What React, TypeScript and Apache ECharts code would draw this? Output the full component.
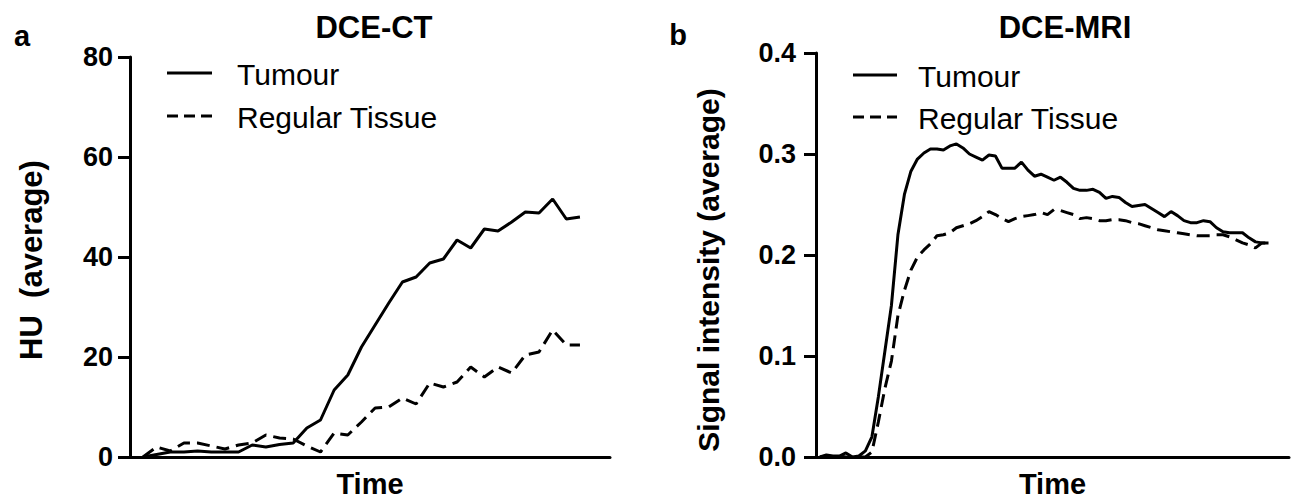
import React, { useEffect, useRef } from "react";
import * as echarts from "echarts";

// ---- DCE-CT (panel a) ----
const ctTime = [0, 1, 2, 3, 4, 5, 6, 7, 8, 9, 10, 11, 12, 13, 14, 15, 16, 17, 18, 19, 20, 21, 22, 23, 24, 25, 26, 27, 28, 29, 30, 31, 32];
const ctTumour = [0, 0.5, 1, 1, 1.2, 1, 1, 1, 2.4, 2, 2.5, 2.8, 5.8, 7.4, 13.4, 16.4, 22, 26.4, 30.8, 35, 36, 38.8, 39.6, 43.4, 41.8, 45.6, 45.2, 47, 49, 48.8, 51.6, 47.6, 48];
const ctRegular = [0, 2, 1.2, 2.8, 2.8, 2.2, 1.6, 2.4, 2.8, 4.4, 3.8, 3.6, 2.2, 1, 4.8, 4.4, 7, 9.8, 10, 11.8, 10.6, 14.8, 14, 15, 18, 16, 18, 16.8, 20.4, 21, 25.4, 22.4, 22.4];
const ctTicks = [0, 20, 40, 60, 80];

// ---- DCE-MRI (panel b) ----
const mriTime = [
  0, 1, 2, 3, 4, 5, 6, 7, 8, 9, 10, 11, 12, 13, 14, 15, 16, 17, 18, 19,
  20, 21, 22, 23, 24, 25, 26, 27, 28, 29, 30, 31, 32, 33, 34, 35, 36, 37, 38, 39,
  40, 41, 42, 43, 44, 45, 46, 47, 48, 49, 50, 51, 52, 53, 54, 55, 56, 57, 58, 59,
  60, 61, 62, 63, 64, 65, 66, 67, 68, 69,
];
const mriTumour = [
  0.0, 0.002, 0.001, 0.001, 0.004, 0.0, 0.001, 0.006, 0.02, 0.06,
  0.105, 0.15, 0.22, 0.26, 0.283, 0.295, 0.301, 0.305, 0.305, 0.304,
  0.308, 0.31, 0.306, 0.3, 0.297, 0.294, 0.299, 0.298, 0.286, 0.286,
  0.286, 0.292, 0.284, 0.278, 0.28, 0.277, 0.274, 0.277, 0.272, 0.266,
  0.264, 0.264, 0.265, 0.262, 0.256, 0.258, 0.257, 0.252, 0.248, 0.249,
  0.25, 0.246, 0.242, 0.238, 0.243, 0.239, 0.234, 0.232, 0.232, 0.234,
  0.233, 0.227, 0.223, 0.222, 0.222, 0.222, 0.217, 0.213, 0.212, 0.212,
];
const mriRegular = [
  0, 0.001, 0, 0.001, 0, 0, 0, 0, 0.005, 0.035,
  0.068, 0.095, 0.14, 0.165, 0.185, 0.198, 0.205, 0.211, 0.219, 0.22,
  0.222, 0.227, 0.229, 0.231, 0.234, 0.238, 0.243, 0.24, 0.236, 0.233,
  0.236, 0.238, 0.239, 0.24, 0.242, 0.24, 0.245, 0.244, 0.242, 0.24,
  0.236, 0.237, 0.236, 0.234, 0.234, 0.235, 0.235, 0.234, 0.232, 0.231,
  0.229, 0.227, 0.225, 0.224, 0.223, 0.222, 0.221, 0.22, 0.219, 0.219,
  0.219, 0.22, 0.22, 0.218, 0.215, 0.212, 0.21, 0.207, 0.212, 0.212,
];
const mriTicks = [0, 0.1, 0.2, 0.3, 0.4];

const seriesNames = ["Tumour", "Regular Tissue"];
const titles = ["DCE-CT", "DCE-MRI"];
const panelLetters = ["a", "b"];
const yNames = ["HU  (average)", "Signal intensity (average)"];
const xName = "Time";

const FONT = "'Liberation Sans', Arial, Helvetica, sans-serif";

function pairs(t: number[], v: number[]) {
  return t.map((x, i) => [x, v[i]]);
}

export default function App() {
  const ref = useRef<HTMLDivElement>(null);

  useEffect(() => {
    if (!ref.current) return;
    const chart = echarts.init(ref.current, null, { renderer: "svg" });

    const axisLine = { show: true, onZero: false, lineStyle: { color: "#000", width: 3 } };

    const xAxisBase = (gridIndex: number, min: number, max: number) => ({
      type: "value",
      gridIndex,
      min,
      max,
      axisLine,
      axisTick: { show: false },
      axisLabel: { show: false },
      splitLine: { show: false },
      name: xName,
      nameLocation: "middle",
      nameGap: 12,
      nameTextStyle: { fontFamily: FONT, fontWeight: "bold", fontSize: 29, color: "#000", verticalAlign: "top" },
    });

    const yAxisBase = (gridIndex: number, max: number, interval: number, decimals: number, margin: number) => ({
      type: "value",
      gridIndex,
      min: 0,
      max,
      interval,
      axisLine,
      axisTick: { show: true, inside: false, length: 12, lineStyle: { color: "#000", width: 3 } },
      axisLabel: {
        fontFamily: FONT,
        fontWeight: "bold",
        fontSize: 27,
        color: "#000",
        margin,
        formatter: (v: number) => v.toFixed(decimals),
      },
      splitLine: { show: false },
    });

    const lineSeries = (name: string, xi: number, data: number[][], dashed: boolean) => ({
      type: "line",
      name,
      xAxisIndex: xi,
      yAxisIndex: xi,
      data,
      symbol: "none",
      smooth: false,
      lineStyle: { color: "#000", width: 3, type: dashed ? [13, 7] : "solid" },
      silent: true,
    });

    const text = (t: string, x: number, y: number, size: number, bold: boolean, align: string, rotation = 0) => ({
      type: "text",
      x,
      y,
      rotation,
      style: {
        text: t,
        fill: "#000",
        fontFamily: FONT,
        fontSize: size,
        fontWeight: bold ? "bold" : "normal",
        align,
        verticalAlign: "middle",
      },
    });

    const legendLine = (x1: number, x2: number, y: number, dashed: boolean) => ({
      type: "line",
      shape: { x1, y1: y, x2, y2: y },
      style: { stroke: "#000", lineWidth: 3, lineDash: dashed ? [11, 6] : null },
    });

    chart.setOption({
      animation: false,
      backgroundColor: "#fff",
      grid: [
        { left: 130, right: 686, top: 57, bottom: 41, containLabel: false, outerBoundsMode: "none" },
        { left: 816, right: 7, top: 53, bottom: 41, containLabel: false, outerBoundsMode: "none" },
      ],
      xAxis: [xAxisBase(0, -0.95, 34.2), xAxisBase(1, -0.6, 72.15)],
      yAxis: [
        yAxisBase(0, ctTicks[ctTicks.length - 1], ctTicks[1] - ctTicks[0], 0, 17),
        yAxisBase(1, mriTicks[mriTicks.length - 1], mriTicks[1] - mriTicks[0], 1, 20),
      ],
      series: [
        lineSeries(seriesNames[0], 0, pairs(ctTime, ctTumour), false),
        lineSeries(seriesNames[1], 0, pairs(ctTime, ctRegular), true),
        lineSeries(seriesNames[0], 1, pairs(mriTime, mriTumour), false),
        lineSeries(seriesNames[1], 1, pairs(mriTime, mriRegular), true),
      ],
      graphic: [
        text(panelLetters[0], 22, 36, 29, true, "center"),
        text(panelLetters[1], 678, 35, 29, true, "center"),
        text(titles[0], 374, 27, 31, true, "center"),
        text(titles[1], 1065, 27, 31, true, "center"),
        text(yNames[0], 31, 260, 31, true, "center", Math.PI / 2),
        text(yNames[1], 708, 270, 30, true, "center", Math.PI / 2),
        legendLine(167, 212, 73, false),
        text(seriesNames[0], 237, 74, 30, false, "left"),
        legendLine(167, 212, 116, true),
        text(seriesNames[1], 237, 117, 30, false, "left"),
        legendLine(853, 897, 75, false),
        text(seriesNames[0], 918, 76, 30, false, "left"),
        legendLine(853, 897, 117, true),
        text(seriesNames[1], 918, 118, 30, false, "left"),
      ],
    });

    return () => chart.dispose();
  }, []);

  return (
    <div
      ref={ref}
      style={{ position: "fixed", left: 0, top: 0, width: 1296, height: 498, background: "#fff" }}
    />
  );
}
